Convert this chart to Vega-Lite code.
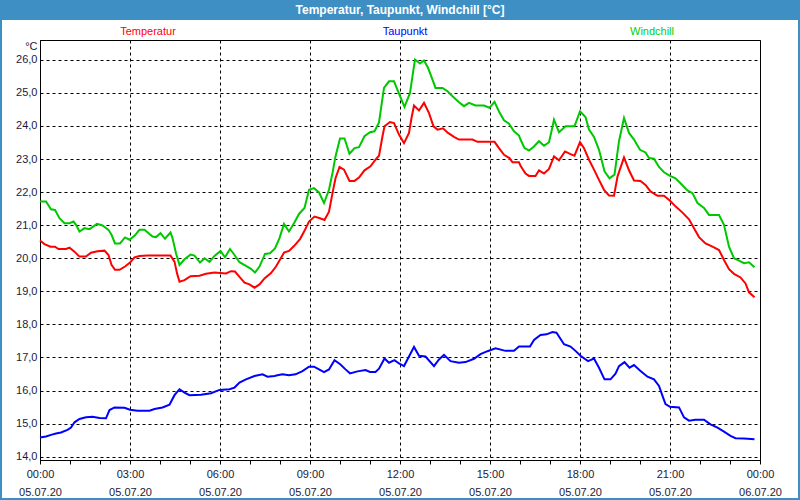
{
  "$schema": "https://vega.github.io/schema/vega-lite/v6.json",
  "autosize": {"type": "none"},
  "padding": {"left": 40, "top": 40, "right": 40, "bottom": 40},
  "width": 720,
  "height": 420,
  "background": "white",
  "config": {
    "view": {"stroke": "black", "strokeWidth": 1, "fill": "white"},
    "font": "Liberation Sans"
  },
  "datasets": {
    "temp": [
      {"t": "2020-07-05T00:00", "v": 20.54}, {"t": "2020-07-05T00:09", "v": 20.43}, {"t": "2020-07-05T00:21", "v": 20.35}, {"t": "2020-07-05T00:30", "v": 20.35},
      {"t": "2020-07-05T00:37", "v": 20.28}, {"t": "2020-07-05T00:52", "v": 20.28}, {"t": "2020-07-05T00:59", "v": 20.32}, {"t": "2020-07-05T01:09", "v": 20.20},
      {"t": "2020-07-05T01:19", "v": 20.05}, {"t": "2020-07-05T01:32", "v": 20.05}, {"t": "2020-07-05T01:42", "v": 20.17}, {"t": "2020-07-05T01:55", "v": 20.21},
      {"t": "2020-07-05T02:09", "v": 20.23}, {"t": "2020-07-05T02:17", "v": 20.10}, {"t": "2020-07-05T02:23", "v": 19.80}, {"t": "2020-07-05T02:30", "v": 19.65},
      {"t": "2020-07-05T02:39", "v": 19.65}, {"t": "2020-07-05T02:50", "v": 19.75}, {"t": "2020-07-05T03:00", "v": 19.87}, {"t": "2020-07-05T03:09", "v": 20.03},
      {"t": "2020-07-05T03:19", "v": 20.07}, {"t": "2020-07-05T03:35", "v": 20.08}, {"t": "2020-07-05T04:21", "v": 20.08}, {"t": "2020-07-05T04:29", "v": 19.90},
      {"t": "2020-07-05T04:34", "v": 19.55}, {"t": "2020-07-05T04:39", "v": 19.29}, {"t": "2020-07-05T04:49", "v": 19.34}, {"t": "2020-07-05T05:01", "v": 19.46},
      {"t": "2020-07-05T05:19", "v": 19.47}, {"t": "2020-07-05T05:32", "v": 19.53}, {"t": "2020-07-05T05:49", "v": 19.57}, {"t": "2020-07-05T06:12", "v": 19.54},
      {"t": "2020-07-05T06:22", "v": 19.61}, {"t": "2020-07-05T06:30", "v": 19.60}, {"t": "2020-07-05T06:39", "v": 19.44}, {"t": "2020-07-05T06:49", "v": 19.26},
      {"t": "2020-07-05T06:59", "v": 19.21}, {"t": "2020-07-05T07:09", "v": 19.11}, {"t": "2020-07-05T07:19", "v": 19.21}, {"t": "2020-07-05T07:29", "v": 19.39},
      {"t": "2020-07-05T07:42", "v": 19.55}, {"t": "2020-07-05T07:52", "v": 19.75}, {"t": "2020-07-05T07:59", "v": 19.93}, {"t": "2020-07-05T08:08", "v": 20.17},
      {"t": "2020-07-05T08:18", "v": 20.22}, {"t": "2020-07-05T08:28", "v": 20.37}, {"t": "2020-07-05T08:40", "v": 20.58}, {"t": "2020-07-05T08:49", "v": 20.83},
      {"t": "2020-07-05T08:58", "v": 21.11}, {"t": "2020-07-05T09:09", "v": 21.26}, {"t": "2020-07-05T09:20", "v": 21.21}, {"t": "2020-07-05T09:29", "v": 21.16},
      {"t": "2020-07-05T09:38", "v": 21.41}, {"t": "2020-07-05T09:45", "v": 21.97}, {"t": "2020-07-05T09:51", "v": 22.42}, {"t": "2020-07-05T09:59", "v": 22.76},
      {"t": "2020-07-05T10:08", "v": 22.68}, {"t": "2020-07-05T10:19", "v": 22.34}, {"t": "2020-07-05T10:29", "v": 22.34}, {"t": "2020-07-05T10:38", "v": 22.44},
      {"t": "2020-07-05T10:49", "v": 22.66}, {"t": "2020-07-05T11:01", "v": 22.78}, {"t": "2020-07-05T11:11", "v": 22.98}, {"t": "2020-07-05T11:18", "v": 23.10},
      {"t": "2020-07-05T11:25", "v": 23.69}, {"t": "2020-07-05T11:29", "v": 23.99}, {"t": "2020-07-05T11:40", "v": 24.12}, {"t": "2020-07-05T11:48", "v": 24.09},
      {"t": "2020-07-05T11:58", "v": 23.74}, {"t": "2020-07-05T12:08", "v": 23.48}, {"t": "2020-07-05T12:18", "v": 23.79}, {"t": "2020-07-05T12:23", "v": 24.24},
      {"t": "2020-07-05T12:28", "v": 24.62}, {"t": "2020-07-05T12:38", "v": 24.47}, {"t": "2020-07-05T12:48", "v": 24.70}, {"t": "2020-07-05T12:58", "v": 24.39},
      {"t": "2020-07-05T13:07", "v": 23.99}, {"t": "2020-07-05T13:15", "v": 23.89}, {"t": "2020-07-05T13:26", "v": 23.93}, {"t": "2020-07-05T13:36", "v": 23.79},
      {"t": "2020-07-05T13:48", "v": 23.67}, {"t": "2020-07-05T13:58", "v": 23.59}, {"t": "2020-07-05T14:25", "v": 23.59}, {"t": "2020-07-05T14:35", "v": 23.52},
      {"t": "2020-07-05T15:09", "v": 23.52}, {"t": "2020-07-05T15:18", "v": 23.33}, {"t": "2020-07-05T15:28", "v": 23.13}, {"t": "2020-07-05T15:39", "v": 23.03},
      {"t": "2020-07-05T15:45", "v": 22.90}, {"t": "2020-07-05T15:58", "v": 22.90}, {"t": "2020-07-05T16:01", "v": 22.80}, {"t": "2020-07-05T16:11", "v": 22.56},
      {"t": "2020-07-05T16:18", "v": 22.49}, {"t": "2020-07-05T16:31", "v": 22.49}, {"t": "2020-07-05T16:38", "v": 22.66}, {"t": "2020-07-05T16:48", "v": 22.56},
      {"t": "2020-07-05T16:58", "v": 22.70}, {"t": "2020-07-05T17:08", "v": 23.08}, {"t": "2020-07-05T17:18", "v": 22.96}, {"t": "2020-07-05T17:30", "v": 23.23},
      {"t": "2020-07-05T17:41", "v": 23.15}, {"t": "2020-07-05T17:49", "v": 23.10}, {"t": "2020-07-05T18:00", "v": 23.51}, {"t": "2020-07-05T18:08", "v": 23.33},
      {"t": "2020-07-05T18:18", "v": 22.98}, {"t": "2020-07-05T18:28", "v": 22.68}, {"t": "2020-07-05T18:38", "v": 22.37}, {"t": "2020-07-05T18:48", "v": 22.07},
      {"t": "2020-07-05T18:58", "v": 21.90}, {"t": "2020-07-05T19:08", "v": 21.89}, {"t": "2020-07-05T19:15", "v": 22.47}, {"t": "2020-07-05T19:28", "v": 23.05},
      {"t": "2020-07-05T19:38", "v": 22.66}, {"t": "2020-07-05T19:48", "v": 22.35}, {"t": "2020-07-05T20:01", "v": 22.34}, {"t": "2020-07-05T20:11", "v": 22.22},
      {"t": "2020-07-05T20:21", "v": 22.02}, {"t": "2020-07-05T20:35", "v": 21.89}, {"t": "2020-07-05T20:48", "v": 21.89}, {"t": "2020-07-05T21:00", "v": 21.74},
      {"t": "2020-07-05T21:11", "v": 21.57}, {"t": "2020-07-05T21:25", "v": 21.38}, {"t": "2020-07-05T21:38", "v": 21.18}, {"t": "2020-07-05T21:48", "v": 20.91},
      {"t": "2020-07-05T21:58", "v": 20.64}, {"t": "2020-07-05T22:11", "v": 20.45}, {"t": "2020-07-05T22:25", "v": 20.35}, {"t": "2020-07-05T22:38", "v": 20.25},
      {"t": "2020-07-05T22:48", "v": 19.95}, {"t": "2020-07-05T22:58", "v": 19.67}, {"t": "2020-07-05T23:08", "v": 19.53}, {"t": "2020-07-05T23:21", "v": 19.42},
      {"t": "2020-07-05T23:31", "v": 19.24}, {"t": "2020-07-05T23:38", "v": 18.97}, {"t": "2020-07-05T23:49", "v": 18.82}
    ],
    "dew": [
      {"t": "2020-07-05T00:00", "v": 14.58}, {"t": "2020-07-05T00:12", "v": 14.61}, {"t": "2020-07-05T00:22", "v": 14.66}, {"t": "2020-07-05T00:32", "v": 14.70},
      {"t": "2020-07-05T00:42", "v": 14.73}, {"t": "2020-07-05T00:55", "v": 14.81}, {"t": "2020-07-05T01:02", "v": 14.88}, {"t": "2020-07-05T01:09", "v": 15.04},
      {"t": "2020-07-05T01:19", "v": 15.14}, {"t": "2020-07-05T01:32", "v": 15.19}, {"t": "2020-07-05T01:45", "v": 15.21}, {"t": "2020-07-05T01:59", "v": 15.17},
      {"t": "2020-07-05T02:12", "v": 15.16}, {"t": "2020-07-05T02:19", "v": 15.41}, {"t": "2020-07-05T02:29", "v": 15.49}, {"t": "2020-07-05T02:49", "v": 15.48},
      {"t": "2020-07-05T03:00", "v": 15.42}, {"t": "2020-07-05T03:15", "v": 15.39}, {"t": "2020-07-05T03:39", "v": 15.39}, {"t": "2020-07-05T03:49", "v": 15.44},
      {"t": "2020-07-05T04:05", "v": 15.49}, {"t": "2020-07-05T04:19", "v": 15.57}, {"t": "2020-07-05T04:29", "v": 15.86}, {"t": "2020-07-05T04:39", "v": 16.04},
      {"t": "2020-07-05T04:49", "v": 15.94}, {"t": "2020-07-05T04:59", "v": 15.86}, {"t": "2020-07-05T05:22", "v": 15.87}, {"t": "2020-07-05T05:42", "v": 15.92},
      {"t": "2020-07-05T05:59", "v": 16.02}, {"t": "2020-07-05T06:19", "v": 16.04}, {"t": "2020-07-05T06:29", "v": 16.09}, {"t": "2020-07-05T06:39", "v": 16.24},
      {"t": "2020-07-05T06:52", "v": 16.34}, {"t": "2020-07-05T07:09", "v": 16.44}, {"t": "2020-07-05T07:25", "v": 16.49}, {"t": "2020-07-05T07:35", "v": 16.42},
      {"t": "2020-07-05T07:49", "v": 16.44}, {"t": "2020-07-05T07:55", "v": 16.46}, {"t": "2020-07-05T08:05", "v": 16.49}, {"t": "2020-07-05T08:18", "v": 16.46},
      {"t": "2020-07-05T08:31", "v": 16.49}, {"t": "2020-07-05T08:45", "v": 16.59}, {"t": "2020-07-05T08:58", "v": 16.72}, {"t": "2020-07-05T09:08", "v": 16.72},
      {"t": "2020-07-05T09:18", "v": 16.64}, {"t": "2020-07-05T09:28", "v": 16.56}, {"t": "2020-07-05T09:38", "v": 16.64}, {"t": "2020-07-05T09:49", "v": 16.92},
      {"t": "2020-07-05T10:01", "v": 16.79}, {"t": "2020-07-05T10:11", "v": 16.64}, {"t": "2020-07-05T10:20", "v": 16.52}, {"t": "2020-07-05T10:35", "v": 16.58},
      {"t": "2020-07-05T10:51", "v": 16.62}, {"t": "2020-07-05T11:00", "v": 16.56}, {"t": "2020-07-05T11:11", "v": 16.56}, {"t": "2020-07-05T11:18", "v": 16.66},
      {"t": "2020-07-05T11:29", "v": 16.97}, {"t": "2020-07-05T11:38", "v": 16.84}, {"t": "2020-07-05T11:49", "v": 16.92}, {"t": "2020-07-05T11:58", "v": 16.82},
      {"t": "2020-07-05T12:08", "v": 16.74}, {"t": "2020-07-05T12:18", "v": 17.03}, {"t": "2020-07-05T12:28", "v": 17.32}, {"t": "2020-07-05T12:38", "v": 17.05},
      {"t": "2020-07-05T12:51", "v": 17.03}, {"t": "2020-07-05T13:08", "v": 16.74}, {"t": "2020-07-05T13:18", "v": 16.94}, {"t": "2020-07-05T13:28", "v": 17.08},
      {"t": "2020-07-05T13:41", "v": 16.89}, {"t": "2020-07-05T13:58", "v": 16.84}, {"t": "2020-07-05T14:11", "v": 16.86}, {"t": "2020-07-05T14:28", "v": 16.96},
      {"t": "2020-07-05T14:41", "v": 17.10}, {"t": "2020-07-05T14:55", "v": 17.19}, {"t": "2020-07-05T15:11", "v": 17.28}, {"t": "2020-07-05T15:31", "v": 17.20},
      {"t": "2020-07-05T15:48", "v": 17.20}, {"t": "2020-07-05T15:58", "v": 17.33}, {"t": "2020-07-05T16:20", "v": 17.33}, {"t": "2020-07-05T16:28", "v": 17.53},
      {"t": "2020-07-05T16:41", "v": 17.68}, {"t": "2020-07-05T16:53", "v": 17.70}, {"t": "2020-07-05T17:05", "v": 17.77}, {"t": "2020-07-05T17:13", "v": 17.75},
      {"t": "2020-07-05T17:28", "v": 17.40}, {"t": "2020-07-05T17:41", "v": 17.33}, {"t": "2020-07-05T17:51", "v": 17.20}, {"t": "2020-07-05T18:01", "v": 17.05},
      {"t": "2020-07-05T18:16", "v": 16.89}, {"t": "2020-07-05T18:28", "v": 16.97}, {"t": "2020-07-05T18:38", "v": 16.69}, {"t": "2020-07-05T18:49", "v": 16.34},
      {"t": "2020-07-05T19:01", "v": 16.34}, {"t": "2020-07-05T19:11", "v": 16.51}, {"t": "2020-07-05T19:18", "v": 16.74}, {"t": "2020-07-05T19:29", "v": 16.86},
      {"t": "2020-07-05T19:39", "v": 16.69}, {"t": "2020-07-05T19:48", "v": 16.77}, {"t": "2020-07-05T20:01", "v": 16.59}, {"t": "2020-07-05T20:15", "v": 16.42},
      {"t": "2020-07-05T20:28", "v": 16.34}, {"t": "2020-07-05T20:38", "v": 16.14}, {"t": "2020-07-05T20:45", "v": 15.84}, {"t": "2020-07-05T20:51", "v": 15.59},
      {"t": "2020-07-05T21:00", "v": 15.51}, {"t": "2020-07-05T21:18", "v": 15.49}, {"t": "2020-07-05T21:28", "v": 15.19}, {"t": "2020-07-05T21:38", "v": 15.09},
      {"t": "2020-07-05T21:51", "v": 15.12}, {"t": "2020-07-05T22:08", "v": 15.12}, {"t": "2020-07-05T22:21", "v": 14.98}, {"t": "2020-07-05T22:35", "v": 14.88},
      {"t": "2020-07-05T22:48", "v": 14.76}, {"t": "2020-07-05T23:01", "v": 14.63}, {"t": "2020-07-05T23:11", "v": 14.56}, {"t": "2020-07-05T23:28", "v": 14.55},
      {"t": "2020-07-05T23:49", "v": 14.53}
    ],
    "wind": [
      {"t": "2020-07-05T00:00", "v": 21.72}, {"t": "2020-07-05T00:12", "v": 21.72}, {"t": "2020-07-05T00:22", "v": 21.48}, {"t": "2020-07-05T00:30", "v": 21.46},
      {"t": "2020-07-05T00:39", "v": 21.21}, {"t": "2020-07-05T00:49", "v": 21.06}, {"t": "2020-07-05T00:59", "v": 21.06}, {"t": "2020-07-05T01:07", "v": 21.11},
      {"t": "2020-07-05T01:12", "v": 21.01}, {"t": "2020-07-05T01:19", "v": 20.81}, {"t": "2020-07-05T01:29", "v": 20.91}, {"t": "2020-07-05T01:39", "v": 20.88},
      {"t": "2020-07-05T01:54", "v": 21.04}, {"t": "2020-07-05T02:05", "v": 20.99}, {"t": "2020-07-05T02:17", "v": 20.86}, {"t": "2020-07-05T02:23", "v": 20.71},
      {"t": "2020-07-05T02:30", "v": 20.45}, {"t": "2020-07-05T02:40", "v": 20.45}, {"t": "2020-07-05T02:50", "v": 20.63}, {"t": "2020-07-05T02:59", "v": 20.56},
      {"t": "2020-07-05T03:09", "v": 20.68}, {"t": "2020-07-05T03:19", "v": 20.86}, {"t": "2020-07-05T03:29", "v": 20.86}, {"t": "2020-07-05T03:45", "v": 20.66},
      {"t": "2020-07-05T03:52", "v": 20.64}, {"t": "2020-07-05T04:01", "v": 20.76}, {"t": "2020-07-05T04:10", "v": 20.59}, {"t": "2020-07-05T04:21", "v": 20.78},
      {"t": "2020-07-05T04:25", "v": 20.61}, {"t": "2020-07-05T04:32", "v": 20.15}, {"t": "2020-07-05T04:39", "v": 19.80}, {"t": "2020-07-05T04:49", "v": 19.97},
      {"t": "2020-07-05T05:01", "v": 20.11}, {"t": "2020-07-05T05:09", "v": 20.08}, {"t": "2020-07-05T05:20", "v": 19.87}, {"t": "2020-07-05T05:29", "v": 20.00},
      {"t": "2020-07-05T05:39", "v": 19.89}, {"t": "2020-07-05T05:49", "v": 20.07}, {"t": "2020-07-05T06:01", "v": 20.22}, {"t": "2020-07-05T06:10", "v": 20.03},
      {"t": "2020-07-05T06:20", "v": 20.28}, {"t": "2020-07-05T06:29", "v": 20.10}, {"t": "2020-07-05T06:39", "v": 19.88}, {"t": "2020-07-05T06:52", "v": 19.77},
      {"t": "2020-07-05T07:02", "v": 19.68}, {"t": "2020-07-05T07:10", "v": 19.57}, {"t": "2020-07-05T07:19", "v": 19.75}, {"t": "2020-07-05T07:30", "v": 20.13},
      {"t": "2020-07-05T07:40", "v": 20.15}, {"t": "2020-07-05T07:50", "v": 20.30}, {"t": "2020-07-05T07:59", "v": 20.61}, {"t": "2020-07-05T08:08", "v": 21.04},
      {"t": "2020-07-05T08:18", "v": 20.81}, {"t": "2020-07-05T08:28", "v": 21.06}, {"t": "2020-07-05T08:38", "v": 21.34}, {"t": "2020-07-05T08:49", "v": 21.52},
      {"t": "2020-07-05T08:58", "v": 22.07}, {"t": "2020-07-05T09:08", "v": 22.12}, {"t": "2020-07-05T09:18", "v": 21.99}, {"t": "2020-07-05T09:28", "v": 21.67},
      {"t": "2020-07-05T09:38", "v": 22.07}, {"t": "2020-07-05T09:45", "v": 22.58}, {"t": "2020-07-05T09:51", "v": 23.08}, {"t": "2020-07-05T10:00", "v": 23.62},
      {"t": "2020-07-05T10:09", "v": 23.62}, {"t": "2020-07-05T10:19", "v": 23.16}, {"t": "2020-07-05T10:29", "v": 23.33}, {"t": "2020-07-05T10:38", "v": 23.36},
      {"t": "2020-07-05T10:49", "v": 23.69}, {"t": "2020-07-05T11:00", "v": 23.81}, {"t": "2020-07-05T11:09", "v": 23.84}, {"t": "2020-07-05T11:18", "v": 24.11},
      {"t": "2020-07-05T11:28", "v": 25.15}, {"t": "2020-07-05T11:38", "v": 25.35}, {"t": "2020-07-05T11:48", "v": 25.35}, {"t": "2020-07-05T12:00", "v": 24.90},
      {"t": "2020-07-05T12:09", "v": 24.58}, {"t": "2020-07-05T12:20", "v": 25.00}, {"t": "2020-07-05T12:27", "v": 25.71}, {"t": "2020-07-05T12:30", "v": 26.01},
      {"t": "2020-07-05T12:40", "v": 25.89}, {"t": "2020-07-05T12:48", "v": 25.98}, {"t": "2020-07-05T12:56", "v": 25.76}, {"t": "2020-07-05T13:05", "v": 25.40},
      {"t": "2020-07-05T13:11", "v": 25.15}, {"t": "2020-07-05T13:25", "v": 25.15}, {"t": "2020-07-05T13:35", "v": 25.05}, {"t": "2020-07-05T13:45", "v": 24.90},
      {"t": "2020-07-05T13:58", "v": 24.72}, {"t": "2020-07-05T14:08", "v": 24.60}, {"t": "2020-07-05T14:18", "v": 24.70}, {"t": "2020-07-05T14:31", "v": 24.62},
      {"t": "2020-07-05T14:48", "v": 24.62}, {"t": "2020-07-05T14:59", "v": 24.55}, {"t": "2020-07-05T15:09", "v": 24.73}, {"t": "2020-07-05T15:18", "v": 24.44},
      {"t": "2020-07-05T15:28", "v": 24.17}, {"t": "2020-07-05T15:38", "v": 24.07}, {"t": "2020-07-05T15:48", "v": 23.84}, {"t": "2020-07-05T15:58", "v": 23.71},
      {"t": "2020-07-05T16:01", "v": 23.59}, {"t": "2020-07-05T16:09", "v": 23.33}, {"t": "2020-07-05T16:18", "v": 23.26}, {"t": "2020-07-05T16:28", "v": 23.38},
      {"t": "2020-07-05T16:38", "v": 23.54}, {"t": "2020-07-05T16:48", "v": 23.40}, {"t": "2020-07-05T16:58", "v": 23.51}, {"t": "2020-07-05T17:03", "v": 23.84},
      {"t": "2020-07-05T17:08", "v": 24.19}, {"t": "2020-07-05T17:18", "v": 23.81}, {"t": "2020-07-05T17:31", "v": 23.99}, {"t": "2020-07-05T17:49", "v": 23.99},
      {"t": "2020-07-05T18:00", "v": 24.44}, {"t": "2020-07-05T18:11", "v": 24.27}, {"t": "2020-07-05T18:18", "v": 23.89}, {"t": "2020-07-05T18:28", "v": 23.67},
      {"t": "2020-07-05T18:38", "v": 23.28}, {"t": "2020-07-05T18:49", "v": 22.63}, {"t": "2020-07-05T18:59", "v": 22.42}, {"t": "2020-07-05T19:09", "v": 22.53},
      {"t": "2020-07-05T19:18", "v": 23.54}, {"t": "2020-07-05T19:28", "v": 24.24}, {"t": "2020-07-05T19:38", "v": 23.79}, {"t": "2020-07-05T19:48", "v": 23.59},
      {"t": "2020-07-05T20:00", "v": 23.28}, {"t": "2020-07-05T20:11", "v": 23.20}, {"t": "2020-07-05T20:18", "v": 23.03}, {"t": "2020-07-05T20:28", "v": 23.01},
      {"t": "2020-07-05T20:38", "v": 22.76}, {"t": "2020-07-05T20:48", "v": 22.60}, {"t": "2020-07-05T21:00", "v": 22.49}, {"t": "2020-07-05T21:11", "v": 22.42},
      {"t": "2020-07-05T21:21", "v": 22.27}, {"t": "2020-07-05T21:35", "v": 22.05}, {"t": "2020-07-05T21:45", "v": 21.97}, {"t": "2020-07-05T21:55", "v": 21.67},
      {"t": "2020-07-05T22:08", "v": 21.52}, {"t": "2020-07-05T22:18", "v": 21.31}, {"t": "2020-07-05T22:38", "v": 21.31}, {"t": "2020-07-05T22:48", "v": 21.01},
      {"t": "2020-07-05T22:58", "v": 20.35}, {"t": "2020-07-05T23:08", "v": 20.00}, {"t": "2020-07-05T23:18", "v": 19.93}, {"t": "2020-07-05T23:28", "v": 19.85},
      {"t": "2020-07-05T23:38", "v": 19.88}, {"t": "2020-07-05T23:49", "v": 19.73}
    ]
  },
  "layer": [
    {
      "data": {"name": "temp"},
      "mark": {"type": "line", "color": "#ff0000", "strokeWidth": 2, "interpolate": "linear"},
      "encoding": {
        "x": {
          "field": "t", "type": "temporal",
          "scale": {"domain": [{"year": 2020, "month": 7, "date": 5, "hours": 0}, {"year": 2020, "month": 7, "date": 6, "hours": 0}]},
          "axis": {
            "title": null,
            "tickCount": 40,
            "values": [
              {"year": 2020, "month": 7, "date": 5, "hours": 0}, {"year": 2020, "month": 7, "date": 5, "hours": 1}, {"year": 2020, "month": 7, "date": 5, "hours": 2},
              {"year": 2020, "month": 7, "date": 5, "hours": 3}, {"year": 2020, "month": 7, "date": 5, "hours": 4}, {"year": 2020, "month": 7, "date": 5, "hours": 5},
              {"year": 2020, "month": 7, "date": 5, "hours": 6}, {"year": 2020, "month": 7, "date": 5, "hours": 7}, {"year": 2020, "month": 7, "date": 5, "hours": 8},
              {"year": 2020, "month": 7, "date": 5, "hours": 9}, {"year": 2020, "month": 7, "date": 5, "hours": 10}, {"year": 2020, "month": 7, "date": 5, "hours": 11},
              {"year": 2020, "month": 7, "date": 5, "hours": 12}, {"year": 2020, "month": 7, "date": 5, "hours": 13}, {"year": 2020, "month": 7, "date": 5, "hours": 14},
              {"year": 2020, "month": 7, "date": 5, "hours": 15}, {"year": 2020, "month": 7, "date": 5, "hours": 16}, {"year": 2020, "month": 7, "date": 5, "hours": 17},
              {"year": 2020, "month": 7, "date": 5, "hours": 18}, {"year": 2020, "month": 7, "date": 5, "hours": 19}, {"year": 2020, "month": 7, "date": 5, "hours": 20},
              {"year": 2020, "month": 7, "date": 5, "hours": 21}, {"year": 2020, "month": 7, "date": 5, "hours": 22}, {"year": 2020, "month": 7, "date": 5, "hours": 23},
              {"year": 2020, "month": 7, "date": 6, "hours": 0}
            ],
            "labelExpr": "hours(datum.value) % 3 == 0 ? [timeFormat(datum.value, '%H:%M'), timeFormat(datum.value, '%d.%m.%y')] : ''",
            "labelOverlap": false,
            "labelFlush": false,
            "labelBound": false,
            "labelFont": "Liberation Sans",
            "labelFontSize": 11,
            "labelColor": "#1a1a3a",
            "labelLineHeight": 18,
            "labelPadding": 4,
            "tickSize": 4,
            "tickColor": "black",
            "domainColor": "black",
            "grid": true,
            "gridColor": "black",
            "gridDash": [3, 3],
            "gridWidth": 1,
            "gridOpacity": {"condition": {"test": "hours(datum.value) % 3 == 0", "value": 1}, "value": 0}
          }
        },
        "y": {
          "field": "v", "type": "quantitative",
          "scale": {"domain": [13.9, 26.6], "nice": false, "zero": false},
          "axis": {
            "title": "°C",
            "titleAngle": 0,
            "titleAlign": "right",
            "titleBaseline": "middle",
            "titleX": -3,
            "titleY": 6,
            "titleFont": "Liberation Sans",
            "titleFontSize": 11,
            "titleFontWeight": "normal",
            "titleColor": "#1a1a3a",
            "tickCount": 30,
            "values": [14, 15, 16, 17, 18, 19, 20, 21, 22, 23, 24, 25, 26],
            "labelExpr": "replace(format(datum.value, '.1f'), '.', ',')",
            "labelOverlap": false,
            "labelFont": "Liberation Sans",
            "labelFontSize": 11,
            "labelColor": "#1a1a3a",
            "labelPadding": 3,
            "ticks": false,
            "domainColor": "black",
            "grid": true,
            "gridColor": "black",
            "gridDash": [3, 3],
            "gridWidth": 1
          }
        }
      }
    },
    {
      "data": {"name": "dew"},
      "mark": {"type": "line", "color": "#0000ff", "strokeWidth": 2, "interpolate": "linear"},
      "encoding": {
        "x": {"field": "t", "type": "temporal"},
        "y": {"field": "v", "type": "quantitative"}
      }
    },
    {
      "data": {"name": "wind"},
      "mark": {"type": "line", "color": "#00c800", "strokeWidth": 2, "interpolate": "linear"},
      "encoding": {
        "x": {"field": "t", "type": "temporal"},
        "y": {"field": "v", "type": "quantitative"}
      }
    },
    {
      "data": {"values": [{"label": "frame"}]},
      "mark": {"type": "rect", "fill": "#3d8fc4"},
      "encoding": {
        "x": {"datum": {"year": 2020, "month": 7, "date": 4, "hours": 22, "minutes": 0}, "type": "temporal"},
        "x2": {"datum": {"year": 2020, "month": 7, "date": 6, "hours": 2, "minutes": 0}},
        "y": {"datum": 28.5, "type": "quantitative"},
        "y2": {"datum": 27.205}
      }
    },
    {
      "data": {"values": [{"label": "border"}]},
      "mark": {"type": "rect", "fill": "transparent", "stroke": "#3d8fc4", "strokeWidth": 4},
      "encoding": {
        "x": {"datum": {"year": 2020, "month": 7, "date": 4, "hours": 22, "minutes": 40}, "type": "temporal"},
        "x2": {"datum": {"year": 2020, "month": 7, "date": 6, "hours": 1, "minutes": 20}},
        "y": {"datum": 27.82, "type": "quantitative"},
        "y2": {"datum": 12.69}
      }
    },
    {
      "data": {"values": [{"label": "Temperatur, Taupunkt, Windchill [°C]"}]},
      "mark": {"type": "text", "color": "white", "font": "Liberation Sans", "fontSize": 12, "fontWeight": "bold", "align": "center", "baseline": "middle"},
      "encoding": {
        "x": {"datum": {"year": 2020, "month": 7, "date": 5, "hours": 12, "minutes": 0}, "type": "temporal"},
        "y": {"datum": 27.51, "type": "quantitative"},
        "text": {"field": "label"}
      }
    },
    {
      "data": {"values": [{"label": "Temperatur"}]},
      "mark": {"type": "text", "color": "#ff0000", "font": "Liberation Sans", "fontSize": 11, "align": "center", "baseline": "middle"},
      "encoding": {
        "x": {"datum": {"year": 2020, "month": 7, "date": 5, "hours": 3, "minutes": 36}, "type": "temporal"},
        "y": {"datum": 26.84, "type": "quantitative"},
        "text": {"field": "label"}
      }
    },
    {
      "data": {"values": [{"label": "Taupunkt"}]},
      "mark": {"type": "text", "color": "#0000ff", "font": "Liberation Sans", "fontSize": 11, "align": "center", "baseline": "middle"},
      "encoding": {
        "x": {"datum": {"year": 2020, "month": 7, "date": 5, "hours": 12, "minutes": 10}, "type": "temporal"},
        "y": {"datum": 26.84, "type": "quantitative"},
        "text": {"field": "label"}
      }
    },
    {
      "data": {"values": [{"label": "Windchill"}]},
      "mark": {"type": "text", "color": "#00d000", "font": "Liberation Sans", "fontSize": 11, "align": "center", "baseline": "middle"},
      "encoding": {
        "x": {"datum": {"year": 2020, "month": 7, "date": 5, "hours": 20, "minutes": 24}, "type": "temporal"},
        "y": {"datum": 26.84, "type": "quantitative"},
        "text": {"field": "label"}
      }
    }
  ]
}
